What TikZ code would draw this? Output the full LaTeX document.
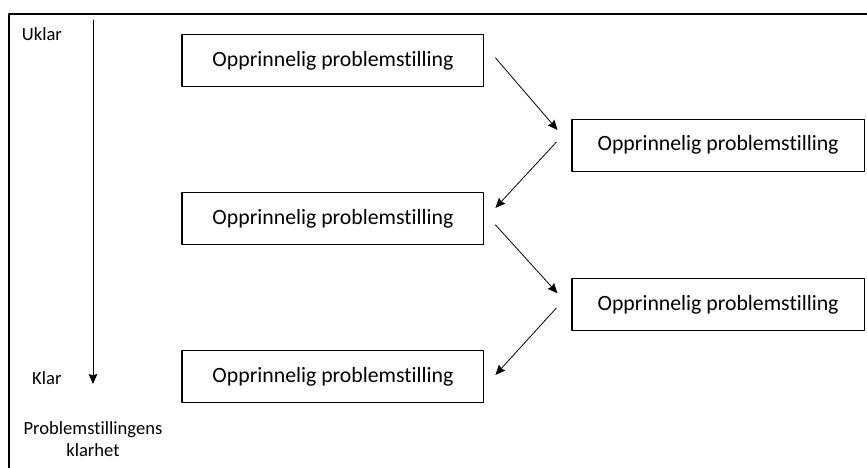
\documentclass[tikz,border=0pt]{standalone}
\usepackage{fontspec}
\setmainfont{Carlito}[Ligatures=NoCommon]
\usetikzlibrary{arrows.meta}
\begin{document}
\begin{tikzpicture}[>={Stealth[length=7.5pt,width=6.5pt,inset=1pt]}, line join=round, line cap=round,
	boks/.style={draw, line width=0.8pt, minimum width=7.99cm, minimum height=1.38cm, inner sep=0pt, font=\fontsize{16.4}{19}\selectfont},
	etikett/.style={font=\fontsize{14}{16.5}\selectfont, align=center, inner sep=0pt},
	pil/.style={->, line width=0.6pt}]
	\def\xv{0.24} \def\yv{-0.37} % ramme
	\def\xl{8.81} \def\xr{19.0} % kolonner
	\useasboundingbox (0,0) rectangle (22.94,-12.38);
	\draw[line width=1.4pt, line cap=butt] (\xv,-12.6) |- (23.2,\yv);
	% akse
	\coordinate (topp) at (2.46,-0.53);
	\coordinate (bunn) at (2.46,-10.16);
	\draw[pil] (topp)--(bunn);
	\node[etikett] (uklar) at (1.11,-0.90) {Uklar};
	\node[etikett] (klar) at (1.24,-10.0) {Klar};
	\node[etikett] (klarhet) at (2.46,-11.62) {Problemstillingens\\klarhet};
	% bokser
	\node[boks] (b1) at (\xl,-1.61) {Opprinnelig problemstilling};
	\node[boks, minimum width=7.73cm] (b2) at (\xr,-3.84) {Opprinnelig problemstilling};
	\node[boks] (b3) at (\xl,-5.79) {Opprinnelig problemstilling};
	\node[boks, minimum width=7.73cm] (b4) at (\xr,-8.06) {Opprinnelig problemstilling};
	\node[boks] (b5) at (\xl,-9.96) {Opprinnelig problemstilling};
	% piler
	\draw[pil] ([shift={(0.29,0.08)}]b1.east)--([shift={(-0.37,0.40)}]b2.west);
	\draw[pil] ([shift={(-0.40,0.08)}]b2.west)--([shift={(0.29,0.29)}]b3.east);
	\draw[pil] ([shift={(0.29,-0.16)}]b3.east)--([shift={(-0.37,0.30)}]b4.west);
	\draw[pil] ([shift={(-0.40,-0.09)}]b4.west)--([shift={(0.29,0.04)}]b5.east);
\end{tikzpicture}
\end{document}
